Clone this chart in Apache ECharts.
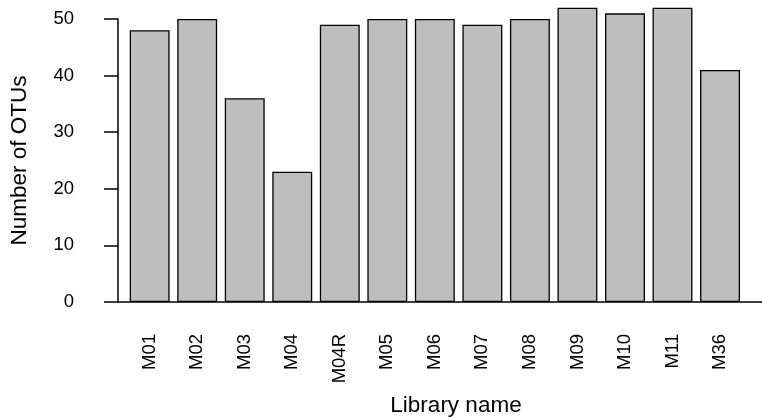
<!DOCTYPE html>
<html>
<head>
<meta charset="utf-8">
<script src="https://cdn.jsdelivr.net/npm/echarts@6/dist/echarts.min.js"></script>
<style>
  html, body { margin: 0; padding: 0; background: #fff; }
  #chart { width: 762px; height: 417px; }
</style>
</head>
<body>
<div id="chart"></div>
<script>
// OTU counts per sequencing library
const libraries = ['M01', 'M02', 'M03', 'M04', 'M04R', 'M05', 'M06', 'M07', 'M08', 'M09', 'M10', 'M11', 'M36'];
const otuCounts = [48, 50, 36, 23, 49, 50, 50, 49, 50, 52, 51, 52, 41];
const yTicks = [0, 10, 20, 30, 40, 50];

const FONT = '"Liberation Sans", Arial, Helvetica, sans-serif';
const chart = echarts.init(document.getElementById('chart'), null, { renderer: 'canvas' });

chart.setOption({
  animation: false,
  backgroundColor: '#ffffff',
  title: {
    text: 'Library name',
    left: 451,
    top: 389,
    textAlign: 'center',
    textStyle: { fontFamily: FONT, fontSize: 22.5, fontWeight: 'normal', color: '#000' }
  },
  grid: [
    // bars
    { left: 125.9, right: 18.2, top: 19, bottom: 115, containLabel: false },
    // y axis and baseline
    { left: 106, right: 0, top: 19, bottom: 115, containLabel: false }
  ],
  xAxis: [
    {
      type: 'category',
      gridIndex: 0,
      data: libraries,
      boundaryGap: true,
      axisLine: { show: false },
      axisTick: { show: false },
      axisLabel: {
        rotate: 90,
        margin: 32,
        fontFamily: FONT,
        fontSize: 18.5,
        color: '#000'
      },
      splitLine: { show: false }
    },
    {
      type: 'value',
      gridIndex: 1,
      min: 0,
      max: 1,
      axisLine: { show: true, onZero: false, lineStyle: { color: '#000', width: 1.5 } },
      axisTick: { show: false },
      axisLabel: { show: false },
      splitLine: { show: false }
    }
  ],
  yAxis: [
    {
      type: 'value',
      gridIndex: 0,
      min: yTicks[0],
      max: yTicks[yTicks.length - 1],
      show: false
    },
    {
      type: 'value',
      gridIndex: 1,
      min: yTicks[0],
      max: yTicks[yTicks.length - 1],
      interval: 10,
      name: 'Number of OTUs',
      nameLocation: 'middle',
      nameGap: 87,
      nameTextStyle: { fontFamily: FONT, fontSize: 22.5, color: '#000' },
      axisLine: { show: true, lineStyle: { color: '#000', width: 1.5 } },
      axisTick: { show: true, inside: false, length: 14, lineStyle: { color: '#000', width: 1.5 } },
      axisLabel: { margin: 44, fontFamily: FONT, fontSize: 18.5, color: '#000' },
      splitLine: { show: false }
    }
  ],
  series: [
    {
      type: 'bar',
      xAxisIndex: 0,
      yAxisIndex: 0,
      data: otuCounts,
      barCategoryGap: '16%',
      clip: false,
      itemStyle: { color: '#bebebe', borderColor: '#000', borderWidth: 1.3 }
    }
  ]
});
</script>
</body>
</html>
